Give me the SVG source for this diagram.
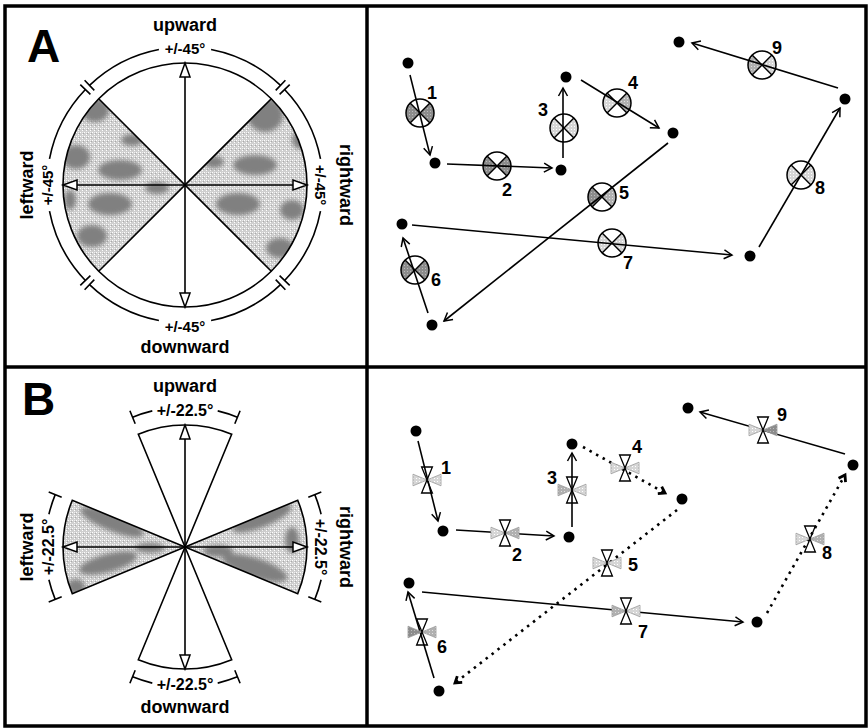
<svg xmlns="http://www.w3.org/2000/svg" xmlns:xlink="http://www.w3.org/1999/xlink" width="868" height="728" viewBox="0 0 868 728">
<style>
.t{font-family:"Liberation Sans",Arial,sans-serif;font-weight:bold;fill:#000}
.big{font-size:46px}
.dir{font-size:18px}
.ang{font-size:15px}
.ang2{font-size:16px}
.num{font-size:18px;text-anchor:middle}
.mid{text-anchor:middle}
.ln{fill:none;stroke:#000;stroke-width:1.6}
.bd{fill:none;stroke:#000;stroke-width:3.5}
.ah{fill:#fff;stroke:#000;stroke-width:1.5}
.dot{fill:#000}
.con{fill:none;stroke:#000;stroke-width:1.6}
.dotl{fill:none;stroke:#000;stroke-width:2.6;stroke-dasharray:2.5 5}
.wt{fill:#fff;stroke:#000;stroke-width:1.3}
.gt{stroke:#999;stroke-width:0.8}
.blob{fill:#808080}
</style>
<defs>
<pattern id="stip" width="4" height="4" patternUnits="userSpaceOnUse">
<rect width="4" height="4" fill="#cfcfcf"/>
<rect x="0" y="0" width="1" height="1" fill="#fff"/>
<rect x="2" y="2" width="1" height="1" fill="#fff"/>
<rect x="2" y="0" width="1" height="1" fill="#f0f0f0"/>
<rect x="3" y="1" width="1" height="1" fill="#aaa"/>
</pattern>
<pattern id="pd" width="3" height="3" patternUnits="userSpaceOnUse">
<rect width="3" height="3" fill="#8c8c8c"/>
<rect x="1" y="1" width="1" height="1" fill="#bbb"/>
</pattern>
<pattern id="pm" width="3" height="3" patternUnits="userSpaceOnUse">
<rect width="3" height="3" fill="#b0b0b0"/>
<rect x="1" y="1" width="1" height="1" fill="#e0e0e0"/>
</pattern>
<pattern id="pl" width="3" height="3" patternUnits="userSpaceOnUse">
<rect width="3" height="3" fill="#d6d6d6"/>
<rect x="1" y="1" width="1" height="1" fill="#fff"/>
</pattern>
<filter id="blur" x="-20%" y="-20%" width="140%" height="140%"><feGaussianBlur stdDeviation="2.5"/></filter>
<clipPath id="cAL"><path d="M185,185 L98.7,271.3 A122,122 0 0 1 98.7,98.7 Z"/></clipPath>
<clipPath id="cAR"><path d="M185,185 L271.3,98.7 A122,122 0 0 1 271.3,271.3 Z"/></clipPath>
<clipPath id="cBL"><path d="M185,547 L72.3,593.7 A122,122 0 0 1 72.3,500.3 Z"/></clipPath>
<clipPath id="cBR"><path d="M185,547 L297.7,500.3 A122,122 0 0 1 297.7,593.7 Z"/></clipPath>
<path id="sL" d="M0,0 L-9.9,-9.9 A14,14 0 0 0 -9.9,9.9 Z"/>
<path id="sR" d="M0,0 L9.9,-9.9 A14,14 0 0 1 9.9,9.9 Z"/>
<g id="xc"><circle r="14" fill="none" stroke="#000" stroke-width="1.5"/><path d="M-9.9,-9.9 L9.9,9.9 M9.9,-9.9 L-9.9,9.9" stroke="#000" stroke-width="1.4"/></g>
<path id="tL" d="M0,0 L-14,-5.8 L-14,5.8 Z"/>
<path id="tR" d="M0,0 L14,-5.8 L14,5.8 Z"/>
<path id="bw" d="M0,0 L-5.4,-13 L5.4,-13 Z M0,0 L5.4,13 L-5.4,13 Z"/>
<marker id="ah" markerWidth="12" markerHeight="12" refX="10" refY="6" orient="auto" markerUnits="userSpaceOnUse"><path d="M2,1.5 L10,6 L2,10.5" fill="none" stroke="#000" stroke-width="1.5"/></marker>
<marker id="ahd" markerWidth="12" markerHeight="12" refX="9" refY="6" orient="auto" markerUnits="userSpaceOnUse"><path d="M3,2 L9,6 L3,10" fill="none" stroke="#000" stroke-width="2.8"/></marker>
</defs>
<rect width="868" height="728" fill="#fff"/>

<!-- frame -->
<g id="frame">
<rect class="bd" x="5" y="6" width="861" height="720"/>
<line class="bd" x1="367" y1="6" x2="367" y2="726"/>
<line class="bd" x1="5" y1="367" x2="866" y2="367"/>
</g>

<!-- Panel A left -->
<g id="panelA-compass">
<text class="t big" x="27" y="62">A</text>
<g clip-path="url(#cAL)">
<rect x="60" y="60" width="130" height="250" fill="url(#stip)"/>
<g filter="url(#blur)" class="blob">
<ellipse cx="76" cy="157" rx="14" ry="12"/>
<ellipse cx="120" cy="170" rx="22" ry="10"/>
<ellipse cx="95" cy="110" rx="14" ry="12"/>
<ellipse cx="110" cy="204" rx="22" ry="11"/>
<ellipse cx="92" cy="236" rx="15" ry="11"/>
<ellipse cx="157" cy="188" rx="12" ry="6"/>
<ellipse cx="132" cy="140" rx="11" ry="6"/>
<ellipse cx="70" cy="200" rx="6" ry="10"/>
</g>
</g>
<g clip-path="url(#cAR)">
<rect x="180" y="60" width="130" height="250" fill="url(#stip)"/>
<g filter="url(#blur)" class="blob">
<ellipse cx="265" cy="115" rx="18" ry="17"/>
<ellipse cx="255" cy="165" rx="22" ry="10"/>
<ellipse cx="238" cy="204" rx="22" ry="11"/>
<ellipse cx="292" cy="210" rx="12" ry="10"/>
<ellipse cx="280" cy="248" rx="14" ry="10"/>
<ellipse cx="214" cy="162" rx="10" ry="6"/>
<ellipse cx="300" cy="140" rx="8" ry="9"/>
</g>
</g>
<circle class="ln" cx="185" cy="185" r="122"/>
<path class="ln" d="M98.7,98.7 L271.3,271.3 M271.3,98.7 L98.7,271.3"/>
<path class="ln" d="M185,77 L185,293 M77,185 L293,185"/>
<polygon class="ah" points="185,63 180,77 190,77"/>
<polygon class="ah" points="185,307 180,293 190,293"/>
<polygon class="ah" points="63,185 77,180 77,190"/>
<polygon class="ah" points="307,185 293,180 293,190"/>
<path class="ln" d="M89.5,85.4 A138,138 0 0 1 158.9,49.5 M211.1,49.5 A138,138 0 0 1 280.5,85.4 M284.6,89.5 A138,138 0 0 1 320.5,158.9 M320.5,211.1 A138,138 0 0 1 284.6,280.5 M280.5,284.6 A138,138 0 0 1 211.1,320.5 M158.9,320.5 A138,138 0 0 1 89.5,284.6 M85.4,280.5 A138,138 0 0 1 49.5,211.1 M49.5,158.9 A138,138 0 0 1 85.4,89.5"/>
<path class="ln" d="M275.7,90.4 L285.4,80.3 M94.3,90.4 L84.6,80.3 M279.6,94.3 L289.7,84.6 M279.6,275.7 L289.7,285.4 M275.7,279.6 L285.4,289.7 M94.3,279.6 L84.6,289.7 M90.4,94.3 L80.3,84.6 M90.4,275.7 L80.3,285.4"/>
<text class="t dir mid" x="185" y="31">upward</text>
<text class="t ang mid" x="185" y="54">+/-45°</text>
<text class="t ang mid" x="185" y="332">+/-45°</text>
<text class="t dir mid" x="185" y="353">downward</text>
<text class="t dir mid" transform="translate(33,185) rotate(-90)">leftward</text>
<text class="t ang mid" transform="translate(53,185) rotate(-90)">+/-45°</text>
<text class="t dir mid" transform="translate(340,185) rotate(90)">rightward</text>
<text class="t ang mid" transform="translate(315,185) rotate(90)">+/-45°</text>
</g>

<!-- Panel B left -->
<g id="panelB-compass">
<text class="t big" x="22" y="415">B</text>
<g clip-path="url(#cBL)">
<rect x="60" y="490" width="130" height="110" fill="url(#stip)"/>
<g filter="url(#blur)" class="blob">
<ellipse cx="112" cy="522" rx="34" ry="9" transform="rotate(22 112 522)"/>
<ellipse cx="108" cy="563" rx="30" ry="9" transform="rotate(-15 108 563)"/>
<ellipse cx="76" cy="587" rx="9" ry="8"/>
<ellipse cx="150" cy="548" rx="15" ry="5"/>
</g>
</g>
<g clip-path="url(#cBR)">
<rect x="180" y="490" width="130" height="110" fill="url(#stip)"/>
<g filter="url(#blur)" class="blob">
<ellipse cx="262" cy="518" rx="32" ry="9" transform="rotate(-22 262 518)"/>
<ellipse cx="255" cy="568" rx="34" ry="10" transform="rotate(18 255 568)"/>
<ellipse cx="218" cy="551" rx="15" ry="6"/>
<ellipse cx="292" cy="540" rx="7" ry="13"/>
</g>
</g>
<path class="ln" fill="#fff" d="M185,547 L138.3,434.3 A122,122 0 0 1 231.7,434.3 Z"/>
<path class="ln" d="M185,547 L231.7,659.7 A122,122 0 0 1 138.3,659.7 Z"/>
<path class="ln" d="M185,547 L72.3,593.7 A122,122 0 0 1 72.3,500.3 Z"/>
<path class="ln" d="M185,547 L297.7,500.3 A122,122 0 0 1 297.7,593.7 Z"/>
<path class="ln" d="M185,439 L185,655 M77,547 L293,547"/>
<polygon class="ah" points="185,425 180,439 190,439"/>
<polygon class="ah" points="185,669 180,655 190,655"/>
<polygon class="ah" points="63,547 77,542 77,552"/>
<polygon class="ah" points="307,547 293,542 293,552"/>
<path class="ln" d="M132.6,417.2 A140,140 0 0 1 152.3,410.9 M217.7,410.9 A140,140 0 0 1 237.4,417.2 M314.8,494.6 A140,140 0 0 1 321.1,514.3 M321.1,579.7 A140,140 0 0 1 314.8,599.4 M237.4,676.8 A140,140 0 0 1 217.7,683.1 M152.3,683.1 A140,140 0 0 1 132.6,676.8 M55.2,599.4 A140,140 0 0 1 48.9,579.7 M48.9,514.3 A140,140 0 0 1 55.2,494.6"/>
<path class="ln" d="M135.2,423.7 L129.9,410.7 M234.8,423.7 L240.1,410.7 M135.2,670.3 L129.9,683.3 M234.8,670.3 L240.1,683.3 M61.7,497.2 L48.7,491.9 M61.7,596.8 L48.7,602.1 M308.3,497.2 L321.3,491.9 M308.3,596.8 L321.3,602.1"/>
<text class="t dir mid" x="185" y="392">upward</text>
<text class="t ang2 mid" x="185" y="416">+/-22.5°</text>
<text class="t ang2 mid" x="185" y="690">+/-22.5°</text>
<text class="t dir mid" x="185" y="713">downward</text>
<text class="t dir mid" transform="translate(33,547) rotate(-90)">leftward</text>
<text class="t ang2 mid" transform="translate(54,547) rotate(-90)">+/-22.5°</text>
<text class="t dir mid" transform="translate(340,547) rotate(90)">rightward</text>
<text class="t ang2 mid" transform="translate(315,547) rotate(90)">+/-22.5°</text>
</g>

<!-- Panel A right: nodes -->
<g id="A-nodes">
<g id="a-p1"><circle class="dot" cx="408" cy="63" r="5.5"/></g>
<g id="a-p2"><circle class="dot" cx="435" cy="163" r="5.5"/></g>
<g id="a-p3"><circle class="dot" cx="561" cy="170" r="5.5"/></g>
<g id="a-p4"><circle class="dot" cx="566" cy="77" r="5.5"/></g>
<g id="a-p5"><circle class="dot" cx="673" cy="133" r="5.5"/></g>
<g id="a-p6"><circle class="dot" cx="432" cy="325" r="5.5"/></g>
<g id="a-p7"><circle class="dot" cx="402" cy="224" r="5.5"/></g>
<g id="a-p8"><circle class="dot" cx="750" cy="256" r="5.5"/></g>
<g id="a-p9"><circle class="dot" cx="845" cy="99" r="5.5"/></g>
<g id="a-p10"><circle class="dot" cx="679" cy="42" r="5.5"/></g>
</g>
<g id="A-glyphs">
<g id="a-g1" transform="translate(420,113)"><circle r="14" fill="#fff"/><use xlink:href="#sL" fill="url(#pd)"/><use xlink:href="#sR" fill="url(#pd)"/><use xlink:href="#xc"/></g>
<g id="a-g2" transform="translate(497,166)"><circle r="14" fill="#fff"/><use xlink:href="#sL" fill="url(#pd)"/><use xlink:href="#sR" fill="url(#pd)"/><use xlink:href="#xc"/></g>
<g id="a-g3" transform="translate(564,128)"><circle r="14" fill="#fff"/><use xlink:href="#sL" fill="url(#pl)"/><use xlink:href="#sR" fill="url(#pl)"/><use xlink:href="#xc"/></g>
<g id="a-g4" transform="translate(617,103)"><circle r="14" fill="#fff"/><use xlink:href="#sL" fill="url(#pl)"/><use xlink:href="#sR" fill="url(#pm)"/><use xlink:href="#xc"/></g>
<g id="a-g5" transform="translate(602,197)"><circle r="14" fill="#fff"/><use xlink:href="#sL" fill="url(#pd)"/><use xlink:href="#sR" fill="url(#pm)"/><use xlink:href="#xc"/></g>
<g id="a-g6" transform="translate(415,270)"><circle r="14" fill="#fff"/><use xlink:href="#sL" fill="url(#pd)"/><use xlink:href="#sR" fill="url(#pd)"/><use xlink:href="#xc"/></g>
<g id="a-g7" transform="translate(612,243)"><circle r="14" fill="#fff"/><use xlink:href="#sL" fill="url(#pl)"/><use xlink:href="#sR" fill="url(#pl)"/><use xlink:href="#xc"/></g>
<g id="a-g8" transform="translate(801,175)"><circle r="14" fill="#fff"/><use xlink:href="#sL" fill="url(#pl)"/><use xlink:href="#sR" fill="url(#pl)"/><use xlink:href="#xc"/></g>
<g id="a-g9" transform="translate(762,65)"><circle r="14" fill="#fff"/><use xlink:href="#sL" fill="url(#pm)"/><use xlink:href="#sR" fill="url(#pl)"/><use xlink:href="#xc"/></g>
</g>
<g id="A-connectors">
<line class="con" x1="410" y1="75" x2="430" y2="155" marker-end="url(#ah)"/>
<line class="con" x1="447" y1="164" x2="552" y2="168" marker-end="url(#ah)"/>
<line class="con" x1="563" y1="158" x2="563" y2="88" marker-end="url(#ah)"/>
<line class="con" x1="581" y1="80" x2="659" y2="128" marker-end="url(#ah)"/>
<line class="con" x1="668" y1="143" x2="444" y2="321" marker-end="url(#ah)"/>
<line class="con" x1="428" y1="313" x2="403" y2="238" marker-end="url(#ah)"/>
<line class="con" x1="412" y1="225" x2="732" y2="255" marker-end="url(#ah)"/>
<line class="con" x1="759" y1="247" x2="840" y2="108" marker-end="url(#ah)"/>
<line class="con" x1="838" y1="88" x2="692" y2="43" marker-end="url(#ah)"/>
</g>
<g id="A-labels">
<text class="t num" x="432" y="99">1</text>
<text class="t num" x="507" y="196">2</text>
<text class="t num" x="543" y="116">3</text>
<text class="t num" x="633" y="89">4</text>
<text class="t num" x="624" y="199">5</text>
<text class="t num" x="436" y="286">6</text>
<text class="t num" x="628" y="269">7</text>
<text class="t num" x="820" y="194">8</text>
<text class="t num" x="777" y="54">9</text>
</g>

<!-- Panel B right -->
<g id="B-nodes">
<g id="b-p1"><circle class="dot" cx="416" cy="431" r="5.5"/></g>
<g id="b-p2"><circle class="dot" cx="443" cy="531" r="5.5"/></g>
<g id="b-p3"><circle class="dot" cx="569" cy="537" r="5.5"/></g>
<g id="b-p4"><circle class="dot" cx="572" cy="444" r="5.5"/></g>
<g id="b-p5"><circle class="dot" cx="682" cy="499" r="5.5"/></g>
<g id="b-p6"><circle class="dot" cx="439" cy="691" r="5.5"/></g>
<g id="b-p7"><circle class="dot" cx="409" cy="583" r="5.5"/></g>
<g id="b-p8"><circle class="dot" cx="757" cy="622" r="5.5"/></g>
<g id="b-p9"><circle class="dot" cx="853" cy="465" r="5.5"/></g>
<g id="b-p10"><circle class="dot" cx="688" cy="408" r="5.5"/></g>
</g>
<g id="B-connectors">
<line class="con" x1="418" y1="441" x2="438" y2="521" marker-end="url(#ah)"/>
<line class="con" x1="456" y1="530" x2="554" y2="536" marker-end="url(#ah)"/>
<line class="con" x1="572" y1="527" x2="572" y2="453" marker-end="url(#ah)"/>
<line class="dotl" x1="583" y1="447" x2="665" y2="493" marker-end="url(#ahd)"/>
<line class="dotl" x1="677" y1="510" x2="455" y2="683" marker-end="url(#ahd)"/>
<line class="con" x1="434" y1="678" x2="408" y2="592" marker-end="url(#ah)"/>
<line class="con" x1="422" y1="592" x2="743" y2="622" marker-end="url(#ah)"/>
<line class="dotl" x1="767" y1="613" x2="845" y2="475" marker-end="url(#ahd)"/>
<line class="con" x1="845" y1="454" x2="700" y2="412" marker-end="url(#ah)"/>
</g>
<g id="B-glyphs">
<g id="b-g1" transform="translate(427,480)"><use xlink:href="#tL" class="gt" fill="url(#pl)"/><use xlink:href="#tR" class="gt" fill="url(#pl)"/><use xlink:href="#bw" class="wt" fill-opacity="0"/></g>
<g id="b-g2" transform="translate(505,533)"><use xlink:href="#tL" class="gt" fill="url(#pl)"/><use xlink:href="#tR" class="gt" fill="url(#pm)"/><use xlink:href="#bw" class="wt" fill-opacity="0"/></g>
<g id="b-g3" transform="translate(572,490)"><use xlink:href="#tL" class="gt" fill="url(#pm)"/><use xlink:href="#tR" class="gt" fill="url(#pl)"/><use xlink:href="#bw" class="wt" fill-opacity="0"/></g>
<g id="b-g4" transform="translate(625,468)"><use xlink:href="#tL" class="gt" fill="url(#pl)"/><use xlink:href="#tR" class="gt" fill="url(#pl)"/><use xlink:href="#bw" class="wt" fill-opacity="0"/></g>
<g id="b-g5" transform="translate(607,563)"><use xlink:href="#tL" class="gt" fill="url(#pl)"/><use xlink:href="#tR" class="gt" fill="url(#pl)"/><use xlink:href="#bw" class="wt" fill-opacity="0"/></g>
<g id="b-g6" transform="translate(422,632)"><use xlink:href="#tL" class="gt" fill="url(#pd)"/><use xlink:href="#tR" class="gt" fill="url(#pm)"/><use xlink:href="#bw" class="wt" fill-opacity="0"/></g>
<g id="b-g7" transform="translate(626,611)"><use xlink:href="#tL" class="gt" fill="url(#pm)"/><use xlink:href="#tR" class="gt" fill="url(#pl)"/><use xlink:href="#bw" class="wt" fill-opacity="0"/></g>
<g id="b-g8" transform="translate(810,539)"><use xlink:href="#tL" class="gt" fill="url(#pl)"/><use xlink:href="#tR" class="gt" fill="url(#pm)"/><use xlink:href="#bw" class="wt" fill-opacity="0"/></g>
<g id="b-g9" transform="translate(763,430)"><use xlink:href="#tL" class="gt" fill="url(#pl)"/><use xlink:href="#tR" class="gt" fill="url(#pd)"/><use xlink:href="#bw" class="wt" fill-opacity="0"/></g>
</g>
<g id="B-labels">
<text class="t num" x="446" y="474">1</text>
<text class="t num" x="517" y="561">2</text>
<text class="t num" x="552" y="484">3</text>
<text class="t num" x="637" y="453">4</text>
<text class="t num" x="633" y="571">5</text>
<text class="t num" x="442" y="653">6</text>
<text class="t num" x="643" y="638">7</text>
<text class="t num" x="827" y="559">8</text>
<text class="t num" x="782" y="421">9</text>
</g>
</svg>
